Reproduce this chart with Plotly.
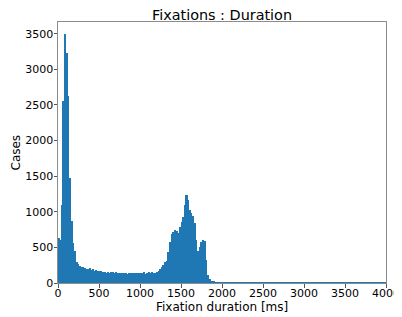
import plotly.graph_objects as go

# Histogram: 20 ms bins from 0 to 4000 ms
bin_width = 20
counts = [
    625, 600, 1090, 2550, 3490, 3230, 2630, 1470, 870, 565,
    450, 300, 262, 240, 225, 230, 205, 200, 195, 210,
    185, 190, 175, 180, 170, 165, 175, 160, 150, 145,
    150, 140, 155, 150, 145, 150, 140, 135, 145, 140,
    135, 140, 130, 145, 140, 135, 140, 145, 140, 135,
    145, 140, 150, 130, 135, 150, 145, 150, 140, 145,
    150, 165, 200, 230, 250, 290, 310, 430, 570, 690,
    720, 740, 730, 700, 790, 860, 930, 1100, 1230, 1160,
    1030, 990, 940, 840, 600, 450, 510, 580, 610, 590,
    320, 110, 50, 35, 25, 18, 12, 10, 8, 6,
    5, 4, 6, 3, 5, 4, 3, 5, 4, 3,
    4, 3, 5, 4, 6, 8, 5, 4, 3, 4,
    3, 4, 5, 3, 2, 4, 3, 5, 4, 3,
    2, 3, 4, 3, 2, 3, 4, 5, 3, 2,
    3, 2, 4, 3, 2, 3, 4, 3, 2, 3,
    5, 4, 3, 2, 3, 4, 3, 2, 3, 4,
    3, 2, 3, 2, 4, 3, 2, 3, 4, 2,
    3, 2, 3, 4, 3, 2, 3, 4, 3, 2,
    3, 2, 4, 6, 5, 4, 3, 2, 3, 4,
    3, 2, 3, 2, 3, 2, 3, 2, 3, 2,
]
bin_starts = [i * bin_width for i in range(len(counts))]
x_ticks = [0, 500, 1000, 1500, 2000, 2500, 3000, 3500, 4000]
y_ticks = [0, 500, 1000, 1500, 2000, 2500, 3000, 3500]

title_text = "Fixations : Duration"
x_label = "Fixation duration [ms]"
y_label = "Cases"

fig = go.Figure(
    go.Bar(
        x=bin_starts,
        y=counts,
        width=bin_width,
        offset=0,
        marker=dict(color="#1f77b4", line=dict(width=0)),
        hoverinfo="x+y",
    )
)

font_family = "DejaVu Sans"
axis_common = dict(
    showgrid=False,
    zeroline=False,
    showline=True,
    linecolor="#8c8c8c",
    linewidth=1,
    mirror=True,
    ticks="outside",
    ticklen=3.5,
    tickwidth=1,
    tickcolor="#555555",
    automargin=False,
    ticklabeloverflow="allow",
    tickfont=dict(family=font_family, size=11, color="black"),
)

# The page body adds an 8px offset, so the figure is placed to compensate.
W, H = 398, 309
L, R, T, B = 50, 20, 14, 34
plot_w = W - L - R
plot_h = H - T - B
fig.update_layout(
    width=W,
    height=H,
    margin=dict(l=L, r=R, t=T, b=B),
    paper_bgcolor="white",
    plot_bgcolor="white",
    bargap=0,
    showlegend=False,
    font=dict(family=font_family, color="black"),
    title=dict(
        text=title_text,
        x=0.5,
        xref="paper",
        xanchor="center",
        y=1 - 6.5 / H,
        yref="container",
        yanchor="middle",
        font=dict(family=font_family, size=14.4, color="black"),
    ),
    xaxis=dict(
        range=[0, 4000],
        tickvals=x_ticks,
        ticklabelstandoff=-4,
        **axis_common,
    ),
    yaxis=dict(
        range=[0, 3665],
        tickvals=y_ticks,
        ticklabelstandoff=-2,
        **axis_common,
    ),
    annotations=[
        dict(
            text=x_label,
            xref="paper",
            yref="paper",
            x=0.5,
            y=-(299 - (T + plot_h)) / plot_h,
            xanchor="center",
            yanchor="middle",
            showarrow=False,
            font=dict(family=font_family, size=12, color="black"),
        ),
        dict(
            text=y_label,
            xref="paper",
            yref="paper",
            x=-(L - 7) / plot_w,
            y=0.5,
            xanchor="center",
            yanchor="middle",
            textangle=-90,
            showarrow=False,
            font=dict(family=font_family, size=12, color="black"),
        ),
    ],
)

fig.write_html("out.html")
